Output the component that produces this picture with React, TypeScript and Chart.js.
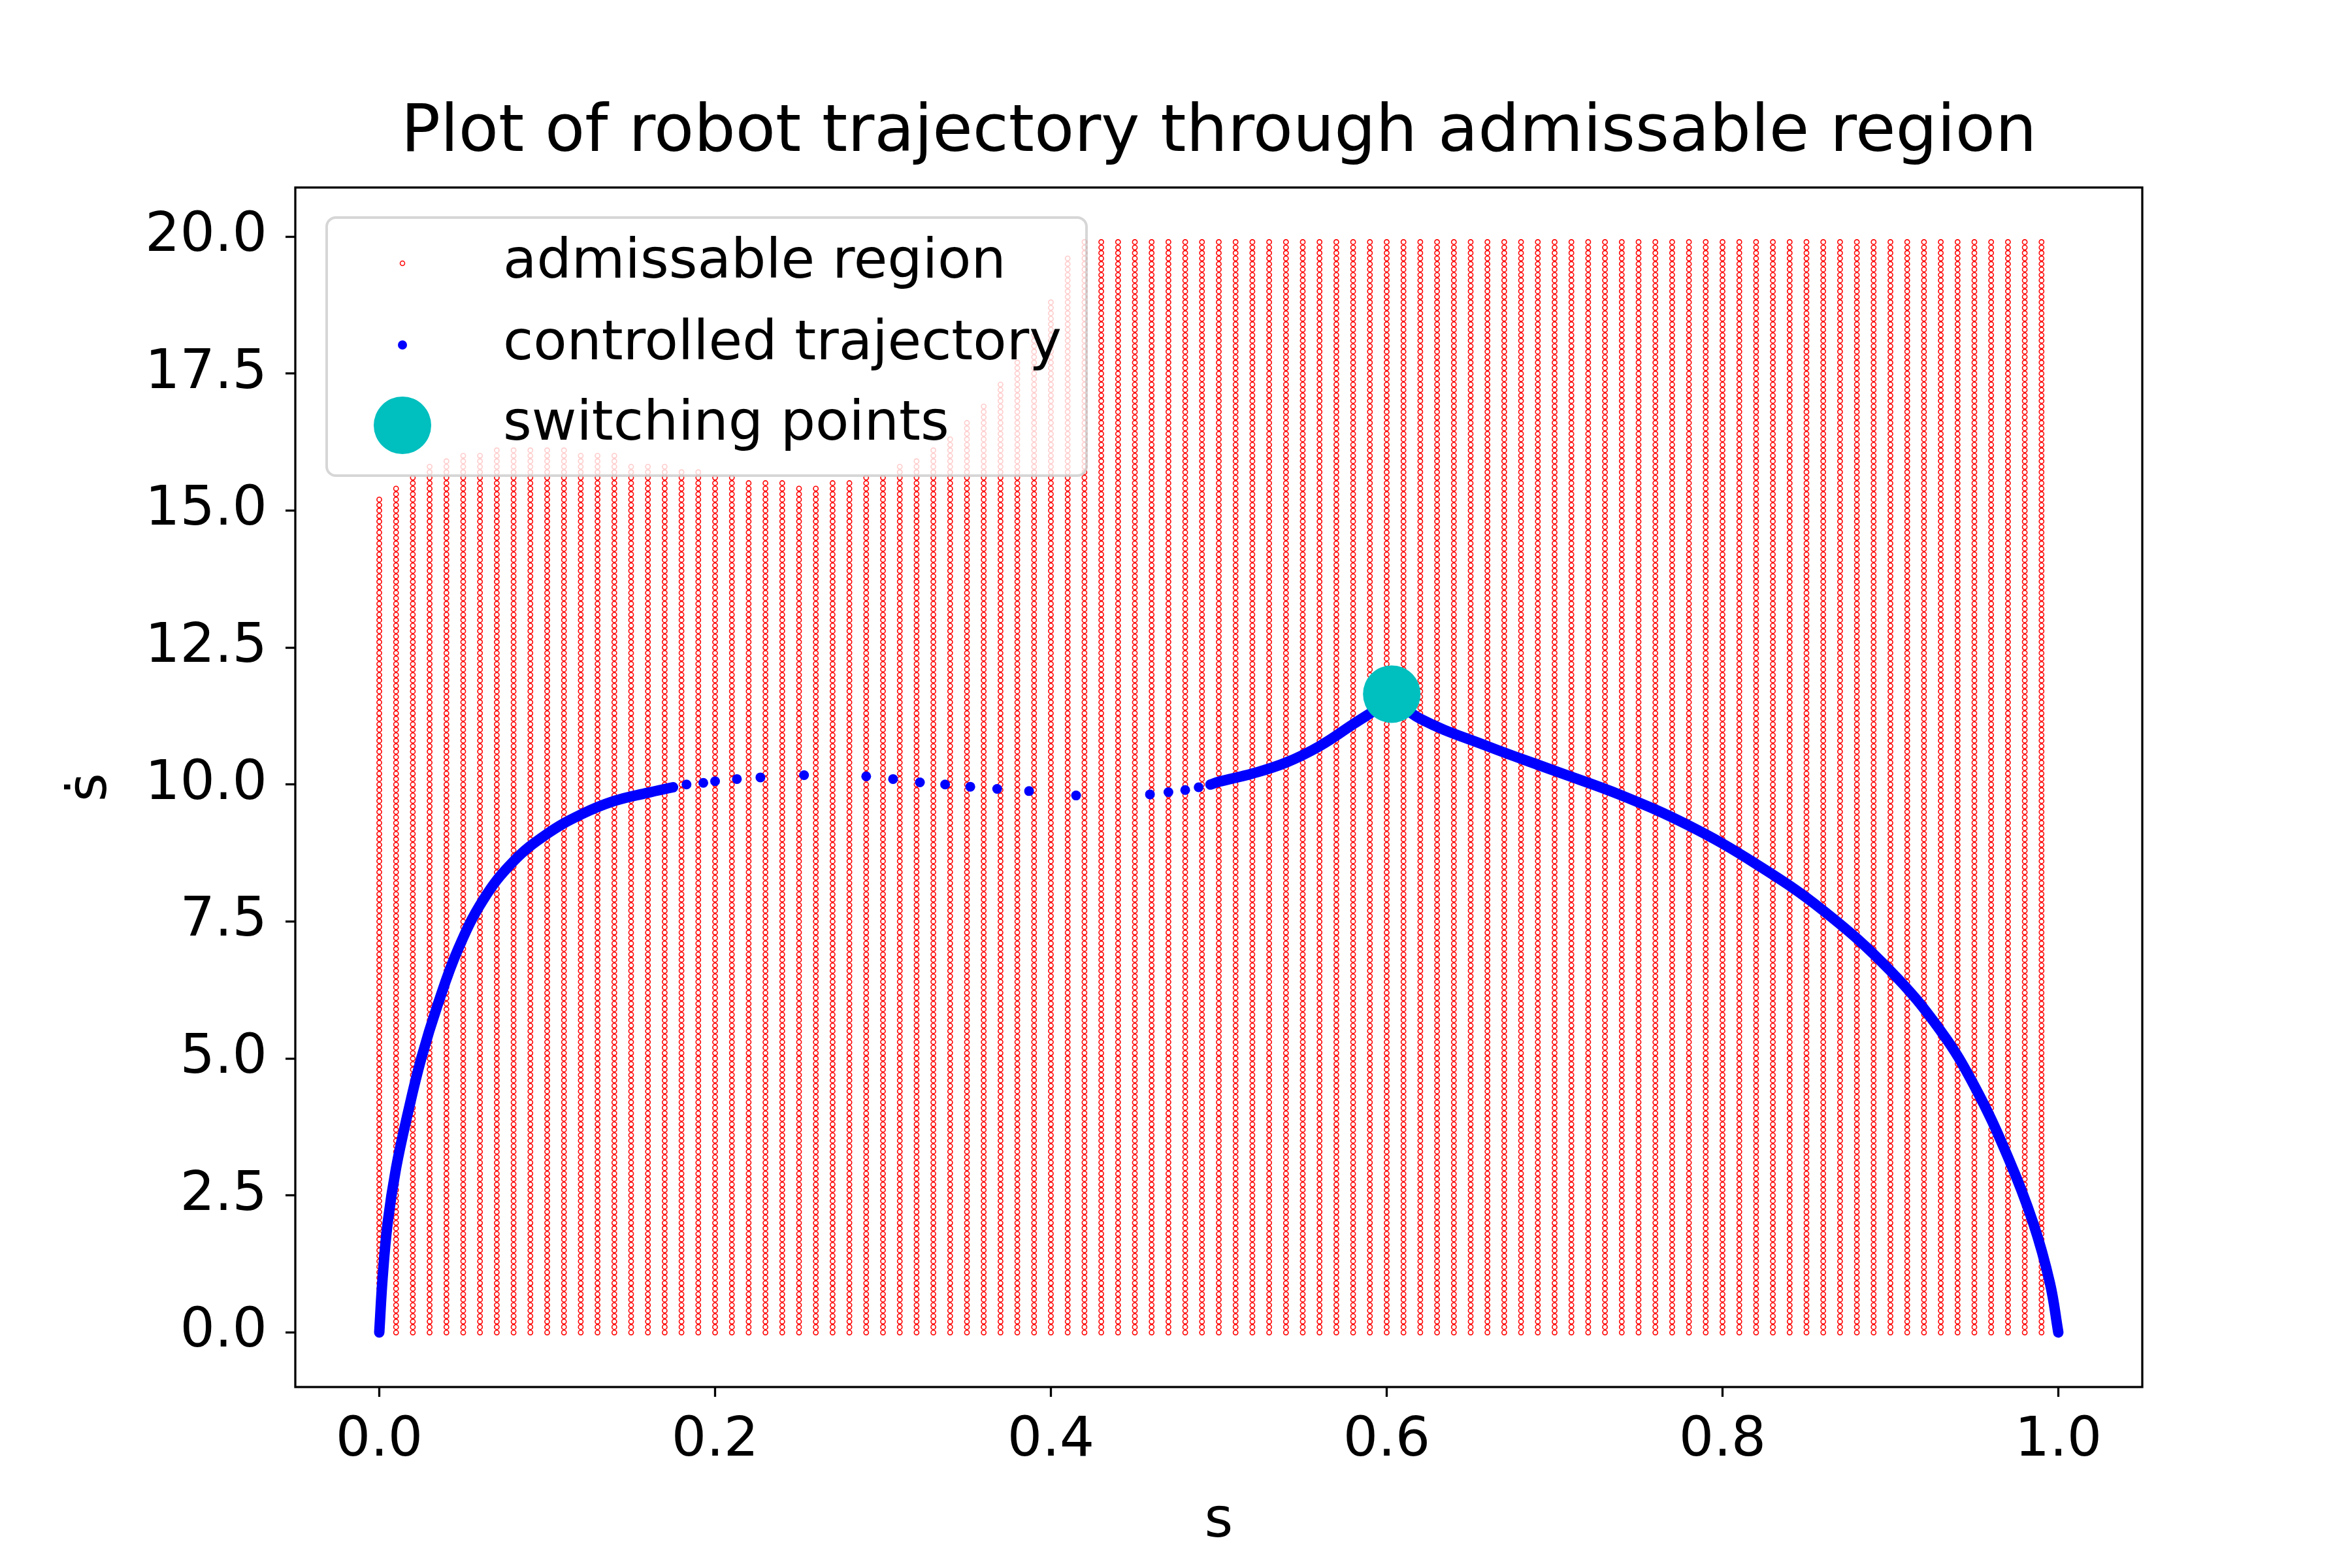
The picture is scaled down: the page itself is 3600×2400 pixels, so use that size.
import React, { useEffect, useRef } from "react";
import { Chart, registerables } from "chart.js";
Chart.register(...registerables);

// admissable region: column positions (s) and the top of each column (s-dot max)
const columnS: number[] = Array.from({ length: 100 }, (_, i) => i / 100);
const columnTop: number[] = [
  15.2, 15.4, 15.6, 15.8, 15.9, 16.0, 16.0, 16.1, 16.1, 16.1,
  16.1, 16.1, 16.0, 16.0, 16.0, 15.8, 15.8, 15.8, 15.7, 15.7,
  15.6, 15.6, 15.5, 15.5, 15.5, 15.4, 15.4, 15.5, 15.5, 15.6,
  15.6, 15.8, 15.9, 16.1, 16.3, 16.6, 16.9, 17.3, 17.7, 18.2,
  18.8, 19.6, 19.9, 19.9, 19.9, 19.9, 19.9, 19.9, 19.9, 19.9,
  19.9, 19.9, 19.9, 19.9, 19.9, 19.9, 19.9, 19.9, 19.9, 19.9,
  19.9, 19.9, 19.9, 19.9, 19.9, 19.9, 19.9, 19.9, 19.9, 19.9,
  19.9, 19.9, 19.9, 19.9, 19.9, 19.9, 19.9, 19.9, 19.9, 19.9,
  19.9, 19.9, 19.9, 19.9, 19.9, 19.9, 19.9, 19.9, 19.9, 19.9,
  19.9, 19.9, 19.9, 19.9, 19.9, 19.9, 19.9, 19.9, 19.9, 19.9,
];
const gridStep = 0.1;

// controlled trajectory: dense stretches (drawn as thick curves) and sparse dots
const accelS = [0, 0.002, 0.005, 0.01, 0.017, 0.025, 0.035, 0.047, 0.062, 0.08, 0.1, 0.12, 0.14, 0.16, 0.175];
const accelV = [0, 1, 2, 3, 4, 5, 6, 7, 7.9, 8.6, 9.1, 9.45, 9.7, 9.85, 9.95];
const sparseS = [0.183, 0.193, 0.2, 0.213, 0.227, 0.253, 0.29, 0.306, 0.322, 0.337, 0.352, 0.368, 0.387, 0.415, 0.459, 0.47, 0.48, 0.488];
const sparseV = [10.0, 10.03, 10.06, 10.1, 10.13, 10.17, 10.15, 10.1, 10.04, 10.0, 9.96, 9.92, 9.88, 9.8, 9.82, 9.86, 9.9, 9.95];
const riseS = [0.495, 0.5, 0.52, 0.54, 0.56, 0.58, 0.6, 0.603];
const riseV = [10.0, 10.05, 10.2, 10.4, 10.7, 11.1, 11.5, 11.6];
const brakeS = [0.603, 0.62, 0.66, 0.7, 0.74, 0.78, 0.82, 0.86, 0.9, 0.93, 0.95, 0.97, 0.985, 0.995, 1.0];
const brakeV = [11.6, 11.2, 10.7, 10.25, 9.8, 9.25, 8.55, 7.7, 6.6, 5.5, 4.5, 3.2, 2.0, 0.9, 0];
const switchS = [0.603];
const switchV = [11.65];

const xTicks = [0, 0.2, 0.4, 0.6, 0.8, 1.0];
const yTicks = [0, 2.5, 5, 7.5, 10, 12.5, 15, 17.5, 20];

const FONT = "DejaVu Sans";
const BLUE = "#0000ff";
const CYAN = "#00bfbf";

const zip = (a: number[], b: number[]) => a.map((x, i) => ({ x, y: b[i] }));

export default function App() {
  const ref = useRef<HTMLCanvasElement>(null);
  useEffect(() => {
    const region: { x: number; y: number }[] = [];
    columnS.forEach((s, i) => {
      const n = Math.round(columnTop[i] / gridStep);
      for (let k = 0; k <= n; k++) region.push({ x: s, y: k * gridStep });
    });
    const lineDs = (d: { x: number; y: number }[]) => ({
      type: "line" as const,
      data: d,
      borderColor: BLUE,
      borderWidth: 16,
      borderCapStyle: "round" as const,
      borderJoinStyle: "round" as const,
      pointRadius: 0,
      tension: 0.4,
      fill: false,
    });
    const frame = {
      id: "frame",
      afterDraw(c: any) {
        const ctx = c.ctx;
        const a = c.chartArea;
        ctx.save();
        ctx.strokeStyle = "#000";
        ctx.lineWidth = 3.3;
        ctx.strokeRect(a.left, a.top, a.right - a.left, a.bottom - a.top);
        // title
        ctx.fillStyle = "#000";
        ctx.font = `100px "${FONT}"`;
        ctx.textAlign = "center";
        ctx.textBaseline = "middle";
        ctx.fillText("Plot of robot trajectory through admissable region", (a.left + a.right) / 2, 205);
        // axis labels
        ctx.font = `84px "${FONT}"`;
        ctx.fillText("s", (a.left + a.right) / 2, 2330);
        ctx.save();
        ctx.translate(140, (a.top + a.bottom) / 2);
        ctx.rotate(-Math.PI / 2);
        ctx.fillText("s\u0307", 0, 0);
        ctx.restore();
        // legend
        const L = 500, T = 333, W = 1163, H = 395, r = 14;
        ctx.beginPath();
        ctx.moveTo(L + r, T);
        ctx.arcTo(L + W, T, L + W, T + H, r);
        ctx.arcTo(L + W, T + H, L, T + H, r);
        ctx.arcTo(L, T + H, L, T, r);
        ctx.arcTo(L, T, L + W, T, r);
        ctx.closePath();
        ctx.fillStyle = "rgba(255,255,255,0.8)";
        ctx.fill();
        ctx.strokeStyle = "rgba(204,204,204,0.8)";
        ctx.lineWidth = 4;
        ctx.stroke();
        const mx = 616;
        const rows = [403, 528, 651];
        ctx.beginPath();
        ctx.arc(mx, rows[0], 3.5, 0, Math.PI * 2);
        ctx.fillStyle = "#fff";
        ctx.fill();
        ctx.strokeStyle = "red";
        ctx.lineWidth = 1.5;
        ctx.stroke();
        ctx.beginPath();
        ctx.arc(mx, rows[1], 7, 0, Math.PI * 2);
        ctx.fillStyle = BLUE;
        ctx.fill();
        ctx.beginPath();
        ctx.arc(mx, rows[2], 44, 0, Math.PI * 2);
        ctx.fillStyle = CYAN;
        ctx.fill();
        ctx.fillStyle = "#000";
        ctx.textAlign = "left";
        ctx.font = `84px "${FONT}"`;
        ["admissable region", "controlled trajectory", "switching points"].forEach((t, i) =>
          ctx.fillText(t, 770, rows[i])
        );
        ctx.restore();
      },
    };
    const tickCfg = (vals: number[], id: "x" | "y") => ({
      type: "linear" as const,
      min: id === "x" ? -0.05 : -0.995,
      max: id === "x" ? 1.05 : 20.895,
      afterBuildTicks: (ax: any) => {
        ax.ticks = vals.map((v) => ({ value: v }));
      },
      afterFit: (ax: any) => {
        if (id === "y") ax.width = 452;
        else ax.height = 277;
      },
      grid: {
        drawOnChartArea: false,
        drawTicks: true,
        tickLength: 15,
        tickWidth: 3.3,
        tickColor: "#000",
      },
      border: { display: false },
      ticks: {
        color: "#000",
        font: { family: FONT, size: 84 },
        padding: id === "y" ? 28 : 18,
        maxRotation: 0,
        autoSkip: false,
        callback: (v: any) => Number(v).toFixed(1),
      },
    });
    const chart = new Chart(ref.current!, {
      type: "scatter",
      data: {
        datasets: [
          {
            data: region,
            pointRadius: 3.6,
            pointBorderWidth: 1.6,
            pointBorderColor: "red",
            pointBackgroundColor: "rgba(255,255,255,0.9)",
            order: 5,
          } as any,
          { ...lineDs(zip(accelS, accelV)), order: 4 },
          {
            data: zip(sparseS, sparseV),
            pointRadius: 7.5,
            pointBorderWidth: 0,
            pointBackgroundColor: BLUE,
            order: 4,
          },
          { ...lineDs(zip(riseS, riseV)), order: 4 },
          { ...lineDs(zip(brakeS, brakeV)), order: 4 },
          {
            data: zip(switchS, switchV),
            pointRadius: 44,
            pointBorderWidth: 0,
            pointBackgroundColor: CYAN,
            order: 1,
          },
        ],
      },
      options: {
        animation: false,
        responsive: false,
        devicePixelRatio: 1,
        layout: { padding: { top: 287, right: 321, left: 0, bottom: 0 } },
        plugins: { legend: { display: false }, tooltip: { enabled: false }, title: { display: false } },
        scales: { x: tickCfg(xTicks, "x"), y: tickCfg(yTicks, "y") },
      },
      plugins: [frame],
    });
    return () => chart.destroy();
  }, []);
  return (
    <div style={{ position: "absolute", left: 0, top: 0, width: 3600, height: 2400, background: "#fff" }}>
      <canvas ref={ref} width={3600} height={2400} style={{ width: 3600, height: 2400 }} />
    </div>
  );
}
